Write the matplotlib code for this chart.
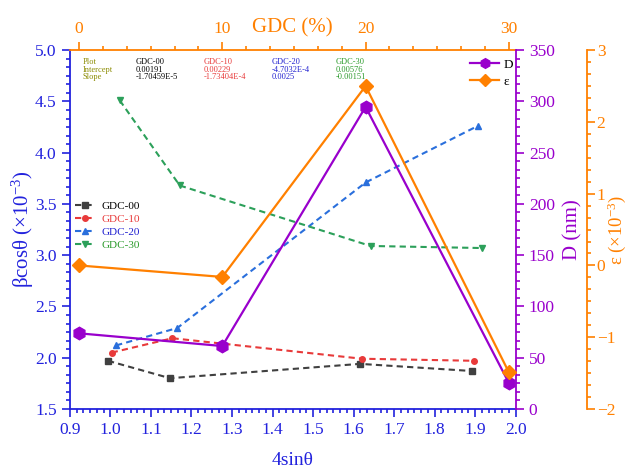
import matplotlib
matplotlib.use('Agg')
import matplotlib.pyplot as plt
from matplotlib.ticker import AutoMinorLocator, MultipleLocator
from matplotlib.lines import Line2D

plt.rcParams['font.family'] = ['Liberation Serif', 'DejaVu Serif']
plt.rcParams['mathtext.fontset'] = 'custom'
plt.rcParams['mathtext.rm'] = 'Liberation Serif'
plt.rcParams['mathtext.it'] = 'Liberation Serif:italic'

# W-H data: 4sin(theta) vs beta*cos(theta) (x1e-3)
g00_x = [0.994, 1.147, 1.616, 1.893]
g00_y = [1.97, 1.80, 1.94, 1.87]
g10_x = [1.003, 1.153, 1.621, 1.897]
g10_y = [2.05, 2.19, 1.99, 1.97]
g20_x = [1.014, 1.165, 1.630, 1.906]
g20_y = [2.12, 2.29, 3.71, 4.26]
g30_x = [1.023, 1.171, 1.642, 1.916]
g30_y = [4.51, 3.68, 3.09, 3.07]

# crystallite size and strain vs GDC content
gdc = [0, 10, 20, 30]
D_nm = [73.8, 61.4, 294.7, 25.3]
eps = [0.0, -0.16, 2.50, -1.49]

# fit table
fit_names = ['GDC-00', 'GDC-10', 'GDC-20', 'GDC-30']
fit_icpt = ['0.00191', '0.00229', '-4.7032E-4', '0.00576']
fit_slope = ['-1.70459E-5', '-1.73404E-4', '0.0025', '-0.00151']

c_blue = '#2222dd'
c_purple = '#9900cc'
c_orange = '#ff8000'
ser_cols = ['#404040', '#e83a3a', '#2a6fdc', '#2ca05a']
txt_cols = ['#000000', '#e83a3a', '#2020d0', '#2a9a2a']
dash = (3, 2)

fig = plt.figure(figsize=(6.3, 4.69), dpi=100)
ax = fig.add_axes([0.111, 0.128, 0.7075, 0.765])

ax.plot(g00_x, g00_y, '--', dashes=dash, color=ser_cols[0], marker='s', ms=4, lw=1.5, label='GDC-00')
ax.plot(g10_x, g10_y, '--', dashes=dash, color=ser_cols[1], marker='o', ms=4, lw=1.5, label='GDC-10')
ax.plot(g20_x, g20_y, '--', dashes=dash, color=ser_cols[2], marker='^', ms=4.5, lw=1.5, label='GDC-20')
ax.plot(g30_x, g30_y, '--', dashes=dash, color=ser_cols[3], marker='v', ms=4.5, lw=1.5, label='GDC-30')

ax.set_xlim(0.9, 2.0)
ax.set_ylim(1.5, 5.0)
ax.xaxis.set_major_locator(MultipleLocator(0.1))
ax.yaxis.set_major_locator(MultipleLocator(0.5))
ax.xaxis.set_minor_locator(AutoMinorLocator(6))
ax.yaxis.set_minor_locator(AutoMinorLocator(6))
ax.xaxis.set_major_formatter(plt.FormatStrFormatter('%.1f'))
ax.yaxis.set_major_formatter(plt.FormatStrFormatter('%.1f'))
ax.tick_params(which='both', direction='out', colors=c_blue, labelsize=12.5, width=1.2)
ax.tick_params(which='major', length=6)
ax.tick_params(which='minor', length=3)
ax.spines['left'].set_color(c_blue)
ax.spines['bottom'].set_color(c_blue)
ax.spines['left'].set_linewidth(1.3)
ax.spines['bottom'].set_linewidth(1.3)
ax.spines['top'].set_visible(False)
ax.spines['right'].set_visible(False)
ax.set_xlabel('4sinθ', fontsize=14, color=c_blue, labelpad=10)
ax.set_ylabel('βcosθ (×10$^{-3}$)', fontsize=15, color=c_blue, va='center', ha='center')
ax.yaxis.set_label_coords(-0.106, 0.5)

leg = ax.legend(loc='upper left', bbox_to_anchor=(0.0, 0.595), frameon=False, fontsize=8,
                handlelength=1.7, labelspacing=0.3, handletextpad=0.6, borderaxespad=0.1)
for t, c in zip(leg.get_texts(), txt_cols):
    t.set_color(c)

# fit table
rows_y = [0.977, 0.957, 0.936]
row_names = ['Plot', 'Intercept', 'Slope']
for j in range(3):
    ax.text(0.028, rows_y[j], row_names[j], transform=ax.transAxes, fontsize=6, color='#8b8b00', va='top')
col_x = [0.148, 0.30, 0.453, 0.596]
for i in range(4):
    ax.text(col_x[i], rows_y[0], fit_names[i], transform=ax.transAxes, fontsize=6, color=txt_cols[i], va='top')
    ax.text(col_x[i], rows_y[1], fit_icpt[i], transform=ax.transAxes, fontsize=6, color=txt_cols[i], va='top')
    ax.text(col_x[i], rows_y[2], fit_slope[i], transform=ax.transAxes, fontsize=6, color=txt_cols[i], va='top')

# top axis: GDC (%)
axT = ax.twiny()
axT.set_xlim(-0.63, 30.47)
axT.xaxis.set_major_locator(MultipleLocator(10))
axT.xaxis.set_minor_locator(AutoMinorLocator(6))
axT.tick_params(which='both', direction='out', colors=c_orange, labelsize=12.5, width=1.2)
axT.tick_params(which='major', length=6)
axT.tick_params(which='minor', length=3)
for s in ['left', 'right', 'bottom']:
    axT.spines[s].set_visible(False)
axT.spines['top'].set_color(c_orange)
axT.spines['top'].set_linewidth(1.3)
axT.set_xlabel('GDC (%)', fontsize=15, color=c_orange)
axT.xaxis.set_label_coords(0.5, 1.048)

# right axis: D (nm)
axD = axT.twinx()
axD.plot(gdc, D_nm, '-', color=c_purple, marker='h', ms=9, lw=1.6, label='D')
axD.set_ylim(0, 350)
axD.yaxis.set_major_locator(MultipleLocator(50))
axD.yaxis.set_minor_locator(AutoMinorLocator(6))
axD.tick_params(which='both', direction='out', colors=c_purple, labelsize=12.5, width=1.2)
axD.tick_params(which='major', length=6)
axD.tick_params(which='minor', length=3)
for s in ['left', 'top', 'bottom']:
    axD.spines[s].set_visible(False)
axD.spines['right'].set_color(c_purple)
axD.spines['right'].set_linewidth(1.3)
axD.set_ylabel('D (nm)', fontsize=15, color=c_purple, va='center', ha='center')
axD.yaxis.set_label_coords(1.128, 0.5)

# second right axis: strain
axE = axT.twinx()
axE.spines['right'].set_position(('axes', 1.16))
axE.plot(gdc, eps, '-', color=c_orange, marker='D', ms=7.5, lw=1.6, label='ε')
axE.set_ylim(-2, 3)
axE.yaxis.set_major_locator(MultipleLocator(1))
axE.yaxis.set_minor_locator(AutoMinorLocator(6))
axE.tick_params(which='both', direction='out', colors=c_orange, labelsize=12.5, width=1.2, pad=1)
axE.tick_params(which='major', length=6)
axE.tick_params(which='minor', length=3)
for s in ['left', 'top', 'bottom']:
    axE.spines[s].set_visible(False)
axE.spines['right'].set_color(c_orange)
axE.spines['right'].set_linewidth(1.3)
axE.set_ylabel('ε (×10$^{-3}$)', fontsize=13.5, color=c_orange, va='center', ha='center')
axE.yaxis.set_label_coords(1.226, 0.5)

hD = Line2D([], [], color=c_purple, marker='h', ms=7, lw=1.6)
hE = Line2D([], [], color=c_orange, marker='D', ms=6, lw=1.6)
axE.legend([hD, hE], ['D', 'ε'], loc='upper right', bbox_to_anchor=(1.02, 1.01), frameon=False,
           fontsize=9.5, handlelength=2.2, handletextpad=0.3, labelspacing=0.35)

fig.savefig('out.png', dpi=100)
